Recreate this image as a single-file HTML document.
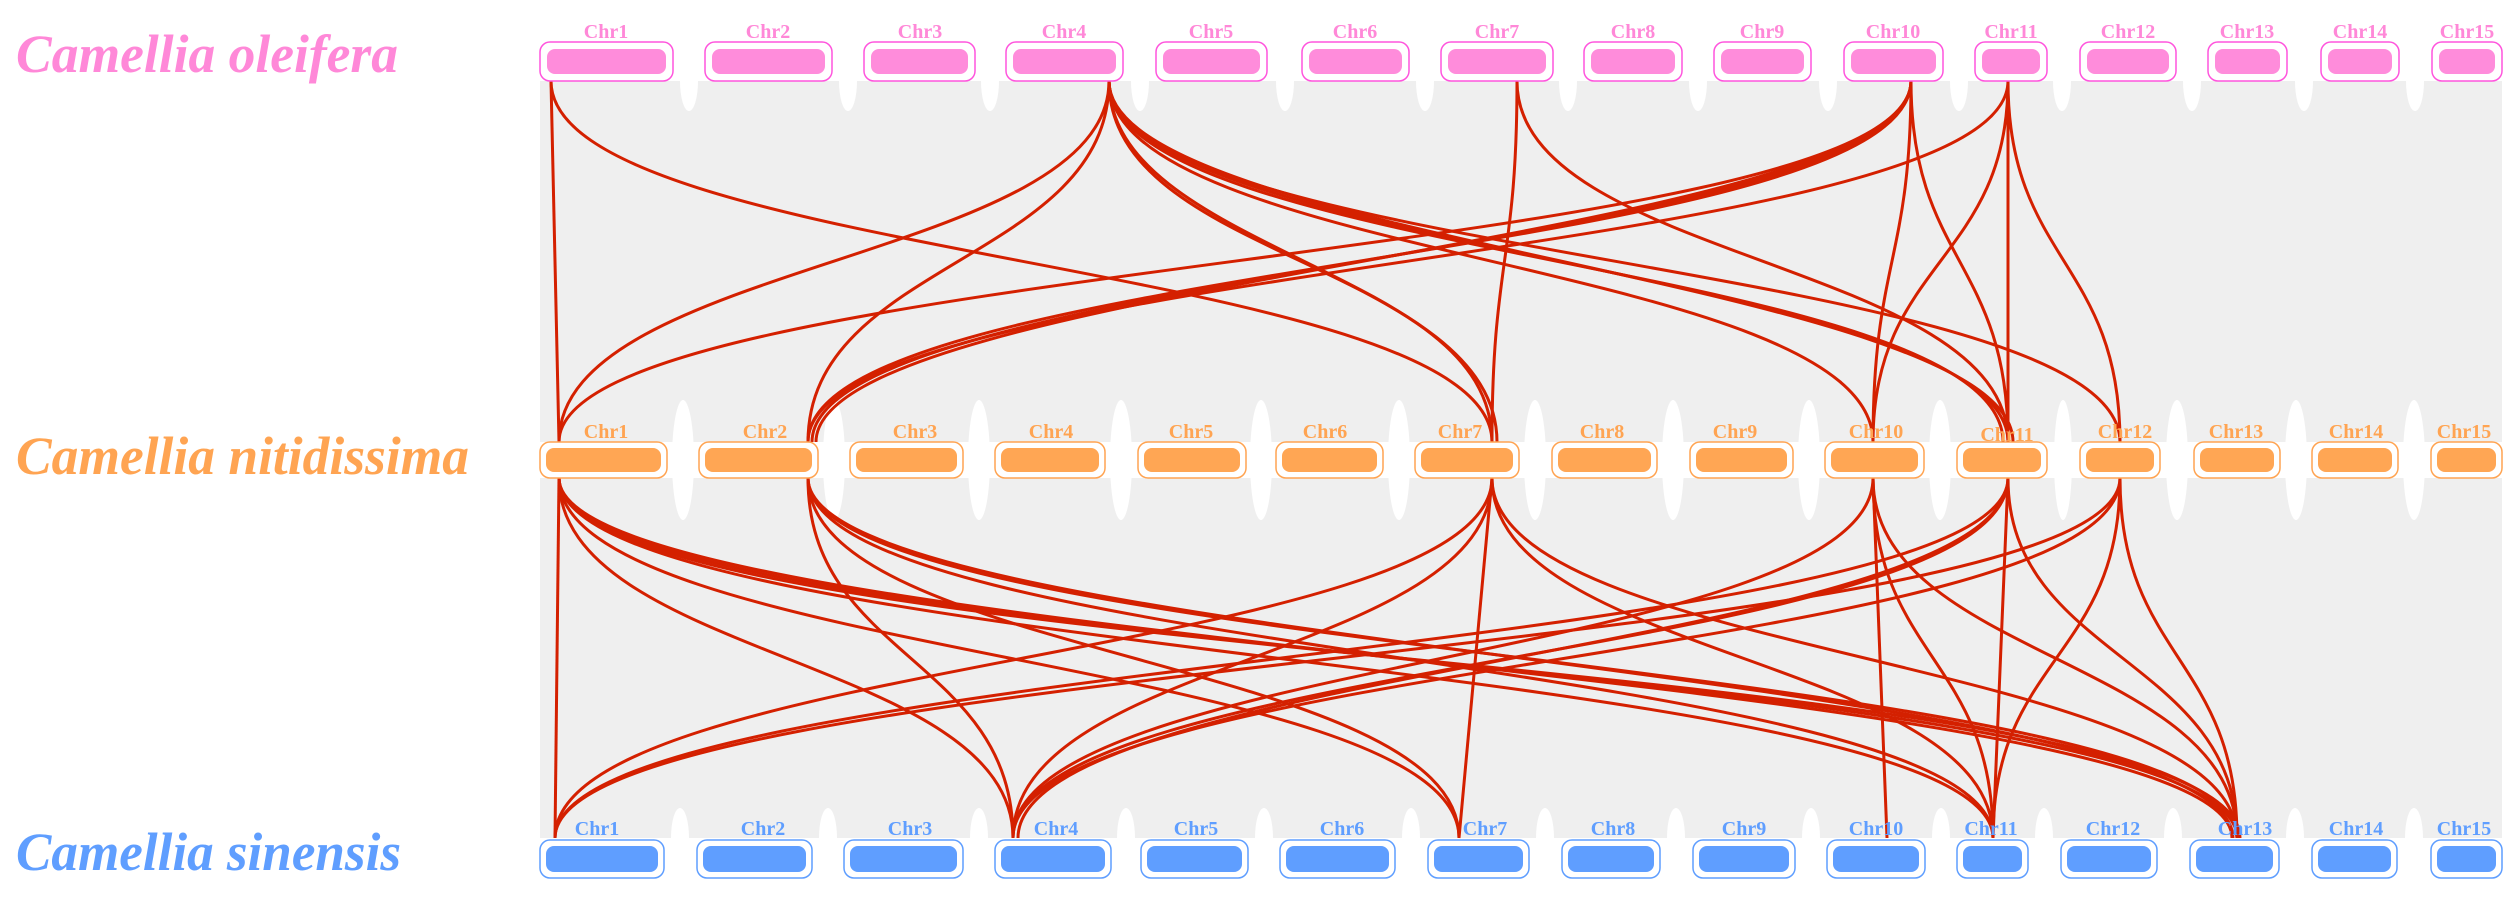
<!DOCTYPE html>
<html><head><meta charset="utf-8"><style>
html,body{margin:0;padding:0;background:#fff;}
svg{display:block;}
.sp{font-family:"Liberation Serif",serif;font-style:italic;font-weight:bold;font-size:54px;}
.cl{font-family:"Liberation Serif",serif;font-weight:bold;font-size:20px;text-anchor:middle;}
.r path{fill:none;stroke:#d42000;stroke-width:3;}
</style></head><body>
<svg width="2518" height="902" viewBox="0 0 2518 902" xmlns="http://www.w3.org/2000/svg">
<rect x="540" y="81" width="1962" height="361" fill="#efefef"/>
<rect x="540" y="478" width="1962" height="360" fill="#efefef"/>
<g fill="#fff">
<ellipse cx="689" cy="81" rx="9" ry="30"/><ellipse cx="848" cy="81" rx="9" ry="30"/><ellipse cx="990" cy="81" rx="9" ry="30"/><ellipse cx="1140" cy="81" rx="9" ry="30"/><ellipse cx="1285" cy="81" rx="9" ry="30"/><ellipse cx="1425" cy="81" rx="9" ry="30"/><ellipse cx="1568" cy="81" rx="9" ry="30"/><ellipse cx="1698" cy="81" rx="9" ry="30"/><ellipse cx="1828" cy="81" rx="9" ry="30"/><ellipse cx="1959" cy="81" rx="9" ry="30"/><ellipse cx="2062" cy="81" rx="9" ry="30"/><ellipse cx="2192" cy="81" rx="9" ry="30"/><ellipse cx="2304" cy="81" rx="9" ry="30"/><ellipse cx="2415" cy="81" rx="9" ry="30"/>
<ellipse cx="683" cy="460" rx="11" ry="60"/><ellipse cx="834" cy="460" rx="11" ry="60"/><ellipse cx="979" cy="460" rx="11" ry="60"/><ellipse cx="1121" cy="460" rx="11" ry="60"/><ellipse cx="1261" cy="460" rx="11" ry="60"/><ellipse cx="1399" cy="460" rx="11" ry="60"/><ellipse cx="1535" cy="460" rx="11" ry="60"/><ellipse cx="1673" cy="460" rx="11" ry="60"/><ellipse cx="1809" cy="460" rx="11" ry="60"/><ellipse cx="1940" cy="460" rx="11" ry="60"/><ellipse cx="2063" cy="460" rx="9" ry="60"/><ellipse cx="2177" cy="460" rx="11" ry="60"/><ellipse cx="2296" cy="460" rx="11" ry="60"/><ellipse cx="2414" cy="460" rx="11" ry="60"/>
<ellipse cx="680" cy="838" rx="9" ry="30"/><ellipse cx="828" cy="838" rx="9" ry="30"/><ellipse cx="979" cy="838" rx="9" ry="30"/><ellipse cx="1126" cy="838" rx="9" ry="30"/><ellipse cx="1264" cy="838" rx="9" ry="30"/><ellipse cx="1411" cy="838" rx="9" ry="30"/><ellipse cx="1545" cy="838" rx="9" ry="30"/><ellipse cx="1676" cy="838" rx="9" ry="30"/><ellipse cx="1811" cy="838" rx="9" ry="30"/><ellipse cx="1941" cy="838" rx="9" ry="30"/><ellipse cx="2044" cy="838" rx="9" ry="30"/><ellipse cx="2173" cy="838" rx="9" ry="30"/><ellipse cx="2295" cy="838" rx="9" ry="30"/><ellipse cx="2414" cy="838" rx="9" ry="30"/>
</g>
<g class="r">
<path d="M551 81 L559 442"/>
<path d="M551 81 C551 261,1492 261,1492 442"/>
<path d="M1109 81 C1109 261,559 261,559 442"/>
<path d="M1109 81 C1109 261,808 261,808 442"/>
<path d="M1109 81 C1109 261,1492 261,1492 442"/>
<path d="M1109 81 C1109 250,1497 271,1497 442"/>
<path d="M1109 81 C1109 261,1873 261,1873 442"/>
<path d="M1109 81 C1109 261,2003 261,2003 442"/>
<path d="M1109 81 C1109 251,2008 271,2008 442"/>
<path d="M1109 81 C1109 241,2013 281,2013 442"/>
<path d="M1109 81 C1109 261,2120 261,2120 442"/>
<path d="M1517 81 C1517 261,1492 261,1492 442"/>
<path d="M1517 81 C1517 261,2008 261,2008 442"/>
<path d="M1911 81 C1911 261,559 261,559 442"/>
<path d="M1911 81 C1911 261,808 261,808 442"/>
<path d="M1911 81 C1911 251,812 271,812 442"/>
<path d="M1911 81 C1911 241,816 281,816 442"/>
<path d="M1911 81 C1911 261,1873 261,1873 442"/>
<path d="M1911 81 C1911 261,2008 261,2008 442"/>
<path d="M2008 81 C2008 261,808 261,808 442"/>
<path d="M2008 81 C2008 261,1873 261,1873 442"/>
<path d="M2008 81 L2008 442"/>
<path d="M2008 81 C2008 261,2120 261,2120 442"/>

<path d="M559 478 L555 838"/>
<path d="M559 478 C559 658,1013 658,1013 838"/>
<path d="M559 478 C559 658,1459 658,1459 838"/>
<path d="M559 478 C559 658,1993 658,1993 838"/>
<path d="M559 478 C559 658,2237 658,2237 838"/>
<path d="M559 478 C559 648,2232 668,2232 838"/>
<path d="M559 478 C559 668,2240 648,2240 838"/>
<path d="M808 478 C808 658,1013 658,1013 838"/>
<path d="M808 478 C808 658,1459 658,1459 838"/>
<path d="M808 478 C808 658,1993 658,1993 838"/>
<path d="M808 478 C808 658,2237 658,2237 838"/>
<path d="M808 478 C808 648,2233 668,2233 838"/>
<path d="M1492 478 C1492 658,555 658,555 838"/>
<path d="M1492 478 C1492 658,1013 658,1013 838"/>
<path d="M1492 478 L1459 838"/>
<path d="M1492 478 C1492 658,1993 658,1993 838"/>
<path d="M1492 478 C1492 658,2237 658,2237 838"/>
<path d="M1873 478 C1873 658,1013 658,1013 838"/>
<path d="M1873 478 L1887 838"/>
<path d="M1873 478 C1873 658,1993 658,1993 838"/>
<path d="M1873 478 C1873 658,2237 658,2237 838"/>
<path d="M2008 478 C2008 658,555 658,555 838"/>
<path d="M2008 478 C2008 658,1013 658,1013 838"/>
<path d="M2008 478 C2008 648,1018 668,1018 838"/>
<path d="M2008 478 L1993 838"/>
<path d="M2008 478 C2008 658,2237 658,2237 838"/>
<path d="M2120 478 C2120 658,555 658,555 838"/>
<path d="M2120 478 C2120 658,1013 658,1013 838"/>
<path d="M2120 478 C2120 658,1993 658,1993 838"/>
<path d="M2120 478 C2120 658,2237 658,2237 838"/>
</g>

<text class="sp" x="16" y="72" fill="#ff88d8" textLength="382" lengthAdjust="spacingAndGlyphs">Camellia oleifera</text>
<text class="sp" x="16" y="474" fill="#ffa452" textLength="453" lengthAdjust="spacingAndGlyphs">Camellia nitidissima</text>
<text class="sp" x="16" y="870" fill="#5f9eff" textLength="385" lengthAdjust="spacingAndGlyphs">Camellia sinensis</text>

<!-- top row -->
<g fill="#fff" stroke="#ff55dd" stroke-width="1.5">
<rect x="540" y="42" width="133" height="39" rx="10"/><rect x="705" y="42" width="127" height="39" rx="10"/><rect x="864" y="42" width="111" height="39" rx="10"/><rect x="1006" y="42" width="117" height="39" rx="10"/><rect x="1156" y="42" width="111" height="39" rx="10"/><rect x="1302" y="42" width="107" height="39" rx="10"/><rect x="1441" y="42" width="112" height="39" rx="10"/><rect x="1584" y="42" width="98" height="39" rx="10"/><rect x="1714" y="42" width="97" height="39" rx="10"/><rect x="1844" y="42" width="99" height="39" rx="10"/><rect x="1975" y="42" width="72" height="39" rx="10"/><rect x="2080" y="42" width="96" height="39" rx="10"/><rect x="2208" y="42" width="79" height="39" rx="10"/><rect x="2321" y="42" width="78" height="39" rx="10"/><rect x="2432" y="42" width="70" height="39" rx="10"/>
</g>
<g fill="#ff8cdb">
<rect x="547" y="49" width="119" height="25" rx="8"/><rect x="712" y="49" width="113" height="25" rx="8"/><rect x="871" y="49" width="97" height="25" rx="8"/><rect x="1013" y="49" width="103" height="25" rx="8"/><rect x="1163" y="49" width="97" height="25" rx="8"/><rect x="1309" y="49" width="93" height="25" rx="8"/><rect x="1448" y="49" width="98" height="25" rx="8"/><rect x="1591" y="49" width="84" height="25" rx="8"/><rect x="1721" y="49" width="83" height="25" rx="8"/><rect x="1851" y="49" width="85" height="25" rx="8"/><rect x="1982" y="49" width="58" height="25" rx="8"/><rect x="2087" y="49" width="82" height="25" rx="8"/><rect x="2215" y="49" width="65" height="25" rx="8"/><rect x="2328" y="49" width="64" height="25" rx="8"/><rect x="2439" y="49" width="56" height="25" rx="8"/>
</g>
<g class="cl" fill="#ff88d8">
<text x="606" y="38">Chr1</text><text x="768" y="38">Chr2</text><text x="920" y="38">Chr3</text><text x="1064" y="38">Chr4</text><text x="1211" y="38">Chr5</text><text x="1355" y="38">Chr6</text><text x="1497" y="38">Chr7</text><text x="1633" y="38">Chr8</text><text x="1762" y="38">Chr9</text><text x="1893" y="38">Chr10</text><text x="2011" y="38">Chr11</text><text x="2128" y="38">Chr12</text><text x="2247" y="38">Chr13</text><text x="2360" y="38">Chr14</text><text x="2467" y="38">Chr15</text>
</g>

<!-- middle row -->
<g fill="#fff" stroke="#ffa452" stroke-width="1.5">
<rect x="540" y="442" width="127" height="36" rx="10"/><rect x="699" y="442" width="119" height="36" rx="10"/><rect x="850" y="442" width="113" height="36" rx="10"/><rect x="995" y="442" width="110" height="36" rx="10"/><rect x="1138" y="442" width="108" height="36" rx="10"/><rect x="1276" y="442" width="107" height="36" rx="10"/><rect x="1415" y="442" width="104" height="36" rx="10"/><rect x="1552" y="442" width="105" height="36" rx="10"/><rect x="1690" y="442" width="103" height="36" rx="10"/><rect x="1825" y="442" width="99" height="36" rx="10"/><rect x="1957" y="442" width="90" height="36" rx="10"/><rect x="2080" y="442" width="80" height="36" rx="10"/><rect x="2194" y="442" width="86" height="36" rx="10"/><rect x="2312" y="442" width="86" height="36" rx="10"/><rect x="2431" y="442" width="71" height="36" rx="10"/>
</g>
<g fill="#ffa654">
<rect x="546" y="448" width="115" height="24" rx="8"/><rect x="705" y="448" width="107" height="24" rx="8"/><rect x="856" y="448" width="101" height="24" rx="8"/><rect x="1001" y="448" width="98" height="24" rx="8"/><rect x="1144" y="448" width="96" height="24" rx="8"/><rect x="1282" y="448" width="95" height="24" rx="8"/><rect x="1421" y="448" width="92" height="24" rx="8"/><rect x="1558" y="448" width="93" height="24" rx="8"/><rect x="1696" y="448" width="91" height="24" rx="8"/><rect x="1831" y="448" width="87" height="24" rx="8"/><rect x="1963" y="448" width="78" height="24" rx="8"/><rect x="2086" y="448" width="68" height="24" rx="8"/><rect x="2200" y="448" width="74" height="24" rx="8"/><rect x="2318" y="448" width="74" height="24" rx="8"/><rect x="2437" y="448" width="59" height="24" rx="8"/>
</g>
<g class="cl" fill="#ffa452">
<text x="606" y="438">Chr1</text><text x="765" y="438">Chr2</text><text x="915" y="438">Chr3</text><text x="1051" y="438">Chr4</text><text x="1191" y="438">Chr5</text><text x="1325" y="438">Chr6</text><text x="1460" y="438">Chr7</text><text x="1602" y="438">Chr8</text><text x="1735" y="438">Chr9</text><text x="1876" y="438">Chr10</text><text x="2007" y="441">Chr11</text><text x="2125" y="438">Chr12</text><text x="2236" y="438">Chr13</text><text x="2356" y="438">Chr14</text><text x="2464" y="438">Chr15</text>
</g>

<!-- bottom row -->
<g fill="#fff" stroke="#5f9eff" stroke-width="1.5">
<rect x="540" y="840" width="124" height="38" rx="10"/><rect x="697" y="840" width="115" height="38" rx="10"/><rect x="844" y="840" width="119" height="38" rx="10"/><rect x="995" y="840" width="116" height="38" rx="10"/><rect x="1141" y="840" width="107" height="38" rx="10"/><rect x="1280" y="840" width="115" height="38" rx="10"/><rect x="1428" y="840" width="101" height="38" rx="10"/><rect x="1562" y="840" width="98" height="38" rx="10"/><rect x="1693" y="840" width="102" height="38" rx="10"/><rect x="1827" y="840" width="98" height="38" rx="10"/><rect x="1957" y="840" width="71" height="38" rx="10"/><rect x="2061" y="840" width="96" height="38" rx="10"/><rect x="2190" y="840" width="89" height="38" rx="10"/><rect x="2312" y="840" width="85" height="38" rx="10"/><rect x="2431" y="840" width="71" height="38" rx="10"/>
</g>
<g fill="#5f9eff">
<rect x="546" y="846" width="112" height="26" rx="8"/><rect x="703" y="846" width="103" height="26" rx="8"/><rect x="850" y="846" width="107" height="26" rx="8"/><rect x="1001" y="846" width="104" height="26" rx="8"/><rect x="1147" y="846" width="95" height="26" rx="8"/><rect x="1286" y="846" width="103" height="26" rx="8"/><rect x="1434" y="846" width="89" height="26" rx="8"/><rect x="1568" y="846" width="86" height="26" rx="8"/><rect x="1699" y="846" width="90" height="26" rx="8"/><rect x="1833" y="846" width="86" height="26" rx="8"/><rect x="1963" y="846" width="59" height="26" rx="8"/><rect x="2067" y="846" width="84" height="26" rx="8"/><rect x="2196" y="846" width="77" height="26" rx="8"/><rect x="2318" y="846" width="73" height="26" rx="8"/><rect x="2437" y="846" width="59" height="26" rx="8"/>
</g>
<g class="cl" fill="#5f9eff">
<text x="597" y="835">Chr1</text><text x="763" y="835">Chr2</text><text x="910" y="835">Chr3</text><text x="1056" y="835">Chr4</text><text x="1196" y="835">Chr5</text><text x="1342" y="835">Chr6</text><text x="1485" y="835">Chr7</text><text x="1613" y="835">Chr8</text><text x="1744" y="835">Chr9</text><text x="1876" y="835">Chr10</text><text x="1991" y="835">Chr11</text><text x="2113" y="835">Chr12</text><text x="2245" y="835">Chr13</text><text x="2356" y="835">Chr14</text><text x="2464" y="835">Chr15</text>
</g>
</svg>
</body></html>
